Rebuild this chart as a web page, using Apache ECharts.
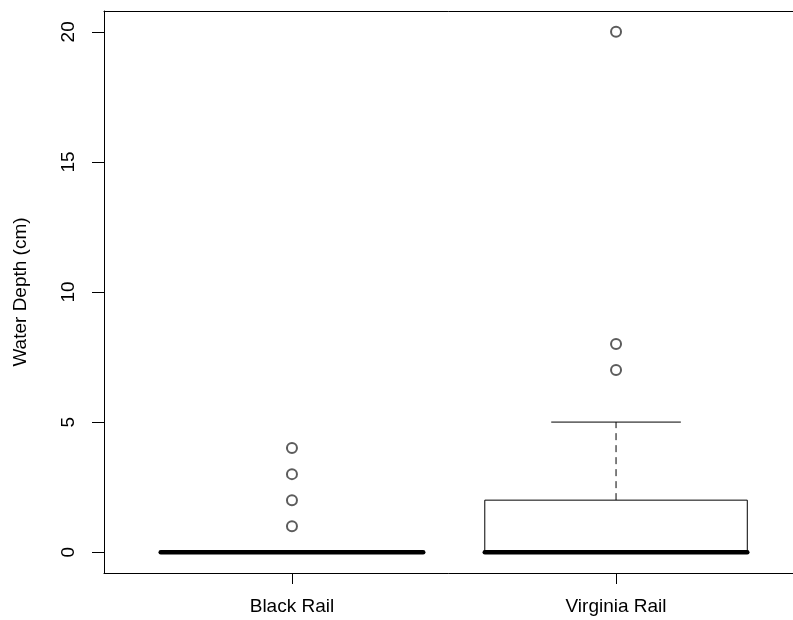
<!DOCTYPE html>
<html>
<head>
<meta charset="utf-8">
<script src="https://cdn.jsdelivr.net/npm/echarts@6/dist/echarts.min.js"></script>
<style>
  html, body { margin: 0; padding: 0; background: #fff; }
  #chart { width: 793px; height: 620px; }
</style>
</head>
<body>
<div id="chart"></div>
<script>
// box statistics
const categories = ['Black Rail', 'Virginia Rail'];
const lowerWhisker = [0, 0];
const q1 = [0, 0];
const median = [0, 0];
const q3 = [0, 2];
const upperWhisker = [0, 5];
const outliers = [[1, 2, 3, 4], [7, 8, 20]];
const yTicks = [0, 5, 10, 15, 20];

const FONT = "'Liberation Sans', Arial, sans-serif";
const BOX_W = 0.81;   // box width in x units
const STAPLE_W = 0.4; // whisker cap width in x units

const chart = echarts.init(document.getElementById('chart'));

const boxData = categories.map((c, i) => [i + 1, lowerWhisker[i], q1[i], median[i], q3[i], upperWhisker[i]]);
const outlierData = [];
outliers.forEach((list, i) => {
  list.forEach((v) => outlierData.push([i + 1, v]));
});

function renderBox(params, api) {
  const x = api.value(0);
  const pLow = api.coord([x, api.value(1)]);
  const pQ1 = api.coord([x, api.value(2)]);
  const pMed = api.coord([x, api.value(3)]);
  const pQ3 = api.coord([x, api.value(4)]);
  const pHigh = api.coord([x, api.value(5)]);
  const half = api.size([BOX_W, 0])[0] / 2;
  const sHalf = api.size([STAPLE_W, 0])[0] / 2;
  const thin = { stroke: '#000', lineWidth: 1, fill: 'none' };
  const dashed = { stroke: '#000', lineWidth: 1, lineDash: [7, 5] };
  return {
    type: 'group',
    children: [
      { type: 'line', shape: { x1: pQ3[0], y1: pQ3[1], x2: pHigh[0], y2: pHigh[1] }, style: dashed },
      { type: 'line', shape: { x1: pQ1[0], y1: pQ1[1], x2: pLow[0], y2: pLow[1] }, style: dashed },
      { type: 'line', shape: { x1: pHigh[0] - sHalf, y1: pHigh[1], x2: pHigh[0] + sHalf, y2: pHigh[1] }, style: thin },
      { type: 'line', shape: { x1: pLow[0] - sHalf, y1: pLow[1], x2: pLow[0] + sHalf, y2: pLow[1] }, style: thin },
      {
        type: 'rect',
        shape: { x: pQ3[0] - half, y: pQ3[1], width: half * 2, height: pQ1[1] - pQ3[1] },
        style: { stroke: '#000', lineWidth: 1, fill: '#fff' }
      },
      {
        type: 'line',
        shape: { x1: pMed[0] - half, y1: pMed[1], x2: pMed[0] + half, y2: pMed[1] },
        style: { stroke: '#000', lineWidth: 4.5, lineCap: 'round' }
      }
    ]
  };
}

const axisLine = { show: true, onZero: false, lineStyle: { color: '#000', width: 1 } };

const option = {
  backgroundColor: '#fff',
  animation: false,
  grid: {
    left: 104,
    top: 11,
    width: 700,
    height: 562,
    outerBoundsMode: 'none',
    show: false
  },
  xAxis: [
    {
      type: 'value',
      min: 0.42,
      max: 2.58,
      splitLine: { show: false },
      axisLine: axisLine,
      axisTick: { show: true, customValues: [1, 2], length: 11, lineStyle: { color: '#000' } },
      axisLabel: {
        customValues: [1, 2],
        formatter: (v) => categories[Math.round(v) - 1] || '',
        color: '#000',
        fontSize: 19,
        fontFamily: FONT,
        margin: 24
      }
    },
    {
      // top edge of the plot frame
      type: 'value',
      position: 'top',
      min: 0.42,
      max: 2.58,
      splitLine: { show: false },
      axisLine: axisLine,
      axisTick: { show: false },
      axisLabel: { show: false }
    }
  ],
  yAxis: {
    type: 'value',
    min: -0.8,
    max: 20.8,
    name: 'Water Depth (cm)',
    nameLocation: 'middle',
    nameRotate: 90,
    nameGap: 74,
    nameTextStyle: { color: '#000', fontSize: 19, fontFamily: FONT },
    splitLine: { show: false },
    axisLine: axisLine,
    axisTick: { show: true, customValues: yTicks, length: 12, lineStyle: { color: '#000' } },
    axisLabel: {
      customValues: yTicks,
      rotate: 90,
      color: '#000',
      fontSize: 19,
      fontFamily: FONT,
      margin: 26
    }
  },
  series: [
    {
      type: 'custom',
      renderItem: renderBox,
      encode: { x: 0, y: [1, 2, 3, 4, 5] },
      data: boxData,
      z: 2
    },
    {
      type: 'scatter',
      symbol: 'emptyCircle',
      symbolSize: 10,
      itemStyle: { color: '#333', borderWidth: 1.4 },
      data: outlierData,
      z: 3
    }
  ]
};

chart.setOption(option);
</script>
</body>
</html>
